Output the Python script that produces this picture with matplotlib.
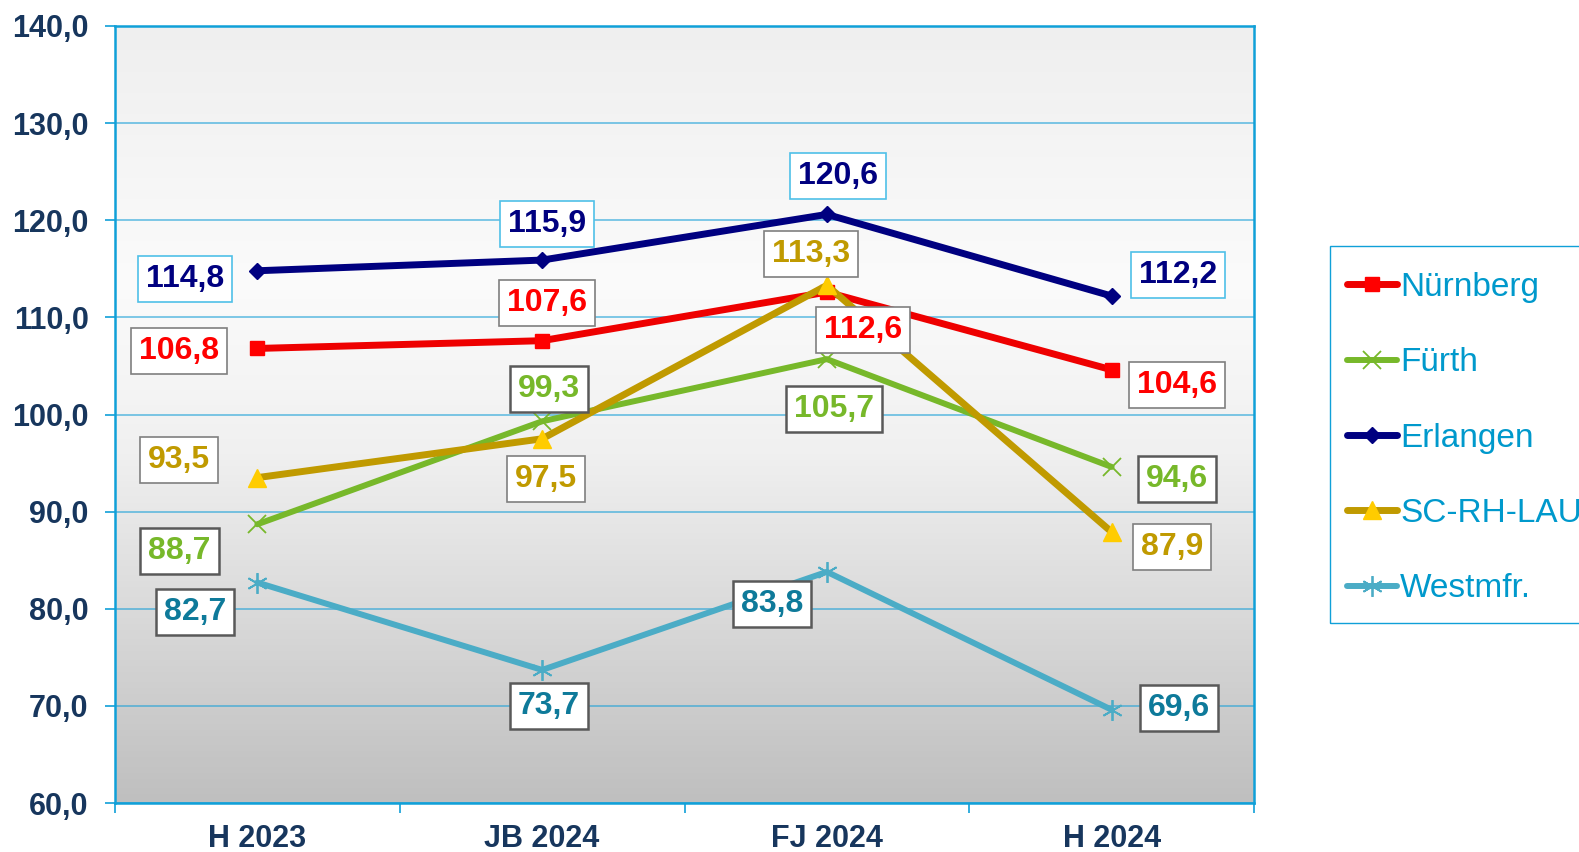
import matplotlib
matplotlib.use("Agg")
import matplotlib.pyplot as plt
import numpy as np
from matplotlib.colors import LinearSegmentedColormap
from matplotlib.patches import Rectangle

# ---- data ----
categories = ["H 2023", "JB 2024", "FJ 2024", "H 2024"]
nuernberg = [106.8, 107.6, 112.6, 104.6]
fuerth = [88.7, 99.3, 105.7, 94.6]
erlangen = [114.8, 115.9, 120.6, 112.2]
scrhlau = [93.5, 97.5, 113.3, 87.9]
westmfr = [82.7, 73.7, 83.8, 69.6]
series_names = ["Nürnberg", "Fürth", "Erlangen", "SC-RH-LAU", "Westmfr."]
yticks = [60, 70, 80, 90, 100, 110, 120, 130, 140]

plt.rcParams['font.family'] = ['Liberation Sans', 'DejaVu Sans']

W, H = 1579, 852
fig = plt.figure(figsize=(W / 100, H / 100), dpi=100)
ax = fig.add_axes([115/W, 1-803/H, (1254-115)/W, (803-26)/H])

# gradient background
cmap = LinearSegmentedColormap.from_list("bg", [(0.0, "#efefef"), (0.33, "#fbfbfb"), (0.55, "#f0f0f0"), (1.0, "#bfbfbf")])
grad = np.linspace(0, 1, 256).reshape(-1, 1)
ax.imshow(grad, cmap=cmap, aspect='auto', extent=[0, 1, 0, 1], transform=ax.transAxes, zorder=0, vmin=0, vmax=1)

x = np.arange(len(categories))

styles = [
    dict(data=nuernberg, color="#ee0000", lw=5.0, marker='s', ms=10, mfc="#ff0000", mec="#ff0000", mew=1,
         tcolor="#ff0000", ecol="#7f7f7f", elw=1.2),
    dict(data=fuerth, color="#77b82a", lw=4.3, marker='x', ms=13, mfc="#77b82a", mec="#77b82a", mew=1.3,
         tcolor="#77b82a", ecol="#595959", elw=1.8),
    dict(data=erlangen, color="#000080", lw=5.0, marker='D', ms=8, mfc="#000080", mec="#000080", mew=1,
         tcolor="#000080", ecol="#4fc0e8", elw=1.2),
    dict(data=scrhlau, color="#c09a00", lw=5.0, marker='^', ms=13, mfc="#ffcc00", mec="#ffcc00", mew=1,
         tcolor="#c09a00", ecol="#7f7f7f", elw=1.2),
    dict(data=westmfr, color="#4bacc6", lw=4.3, marker=(6, 2, 0), ms=15, mfc="#4bacc6", mec="#4bacc6", mew=1.3,
         tcolor="#0e7a9a", ecol="#595959", elw=1.8),
]

# label offsets in pixels (dx, dy)
offsets = [
    [(-78, -3), (5, 38), (36, -38), (65, -15)],
    [(-78, -27), (7, 32), (7, -50), (65, -12)],
    [(-72, -8), (5, 36), (11, 38), (66, 21)],
    [(-78, 18), (4, -40), (-16, 31), (60, -15)],
    [(-62, -29), (7, -36), (-55, -32), (67, 2)],
]

for i, (name, st) in enumerate(zip(series_names, styles)):
    ax.plot(x, st['data'], color=st['color'], lw=st['lw'], marker=st['marker'], ms=st['ms'],
            markerfacecolor=st['mfc'], markeredgecolor=st['mec'], markeredgewidth=st['mew'],
            solid_capstyle='round', label=name, zorder=3 + i * 0.1)

for i, st in enumerate(styles):
    for j, v in enumerate(st['data']):
        dx, dy = offsets[i][j]
        ax.annotate(f"{v:.1f}".replace('.', ','), (x[j], v), xytext=(dx, dy), textcoords='offset pixels',
                    ha='center', va='center', fontsize=23, fontweight='bold', color=st['tcolor'],
                    bbox=dict(boxstyle='square,pad=0.25', fc='white', ec=st['ecol'], lw=st['elw']),
                    zorder=10)

ax.set_xlim(-0.5, 3.5)
ax.set_ylim(60, 140)
ax.set_yticks(yticks)
ax.set_yticklabels([f"{t:.1f}".replace('.', ',') for t in yticks])
ax.set_xticks(x)
ax.set_xticklabels(categories)
ax.set_xticks(np.arange(-0.5, 4, 1), minor=True)

axis_blue = "#10a0d8"
ax.grid(axis='y', color="#1aa0d8", alpha=0.65, lw=1.2, zorder=1)
ax.set_axisbelow(True)
for s in ax.spines.values():
    s.set_color(axis_blue)
    s.set_linewidth(1.8)

tick_col = "#17365d"
ax.tick_params(axis='y', which='major', length=7, width=1.2, color=axis_blue, pad=12,
               labelsize=22, labelcolor=tick_col)
ax.tick_params(axis='x', which='major', length=0, pad=15, labelsize=22, labelcolor=tick_col)
ax.tick_params(axis='x', which='minor', length=7, width=1.2, color=axis_blue)
for lab in ax.get_xticklabels() + ax.get_yticklabels():
    lab.set_fontweight('bold')

# legend frame drawn manually
fig.patches.append(Rectangle((1330/W, 1-623/H), (W-1330+10)/W, (623-246)/H, transform=fig.transFigure,
                             fill=False, edgecolor=axis_blue, lw=1.0))
leg = fig.legend(loc='upper left', bbox_to_anchor=(1347/W, 1-272/H), frameon=False,
                 fontsize=24, handlelength=1.5, handletextpad=0.1, labelspacing=1.33,
                 borderpad=0, borderaxespad=0, markerscale=1.0)
for t in leg.get_texts():
    t.set_color("#0099cc")

fig.savefig("out.png", dpi=100)
